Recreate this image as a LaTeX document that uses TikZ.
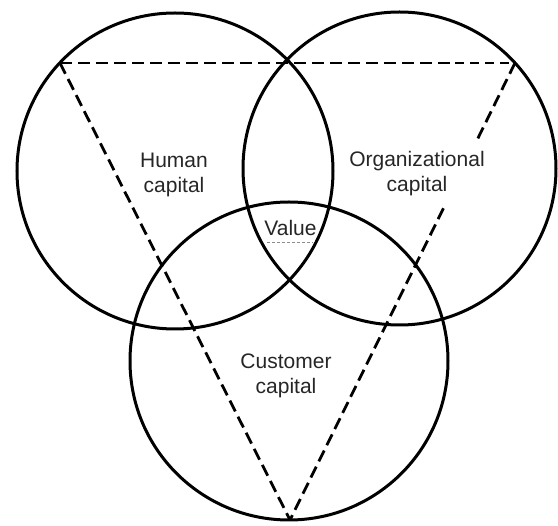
\documentclass[tikz,border=0pt]{standalone}
\usepackage{fontspec}
\setmainfont{Liberation Sans}
\begin{document}
\begin{tikzpicture}[x=1pt,y=-1pt,
  ring/.style={line width=3pt},
  tri/.style={line width=2.8pt, dash pattern=on 12pt off 6pt},
  trithin/.style={line width=1.5pt, dash pattern=on 9pt off 6pt},
  faint/.style={line width=0.8pt, black!45, dash pattern=on 3pt off 2pt},
  lbl/.style={font=\fontsize{21}{25}\selectfont, align=center, text=black!85, inner sep=2pt}]
\useasboundingbox (0,0) rectangle (558,526);
% circles
\draw[ring] (175,171) circle[radius=158pt];
\draw[ring] (399.5,168.5) circle[radius=156.5pt];
\draw[ring] (289,361) circle[radius=159pt];
% triangle corners
\coordinate (tl) at (60,63);
\coordinate (tr) at (515,63);
\coordinate (tm) at (455,63);
\coordinate (bt) at (290,520);
\draw[tri] (tl) -- (tm);
\draw[trithin] (tm) -- (tr);
\draw[tri] (tl) -- (bt);
\draw[tri] (tr) -- (bt);
% faint line under Value
\coordinate (va) at (267,242);
\coordinate (vb) at (313,242);
\draw[faint] (va) -- (vb);
% labels
\node[lbl] (human) at (174,175.3) {Human\\capital};
\node[lbl, fill=white, inner xsep=4pt, inner ysep=11pt] (org) at (417,174) {Organizational\\capital};
\node[lbl] (cust) at (286,375.5) {Customer\\capital};
\node[lbl] (value) at (290.5,227.5) {Value};
\end{tikzpicture}
\end{document}
